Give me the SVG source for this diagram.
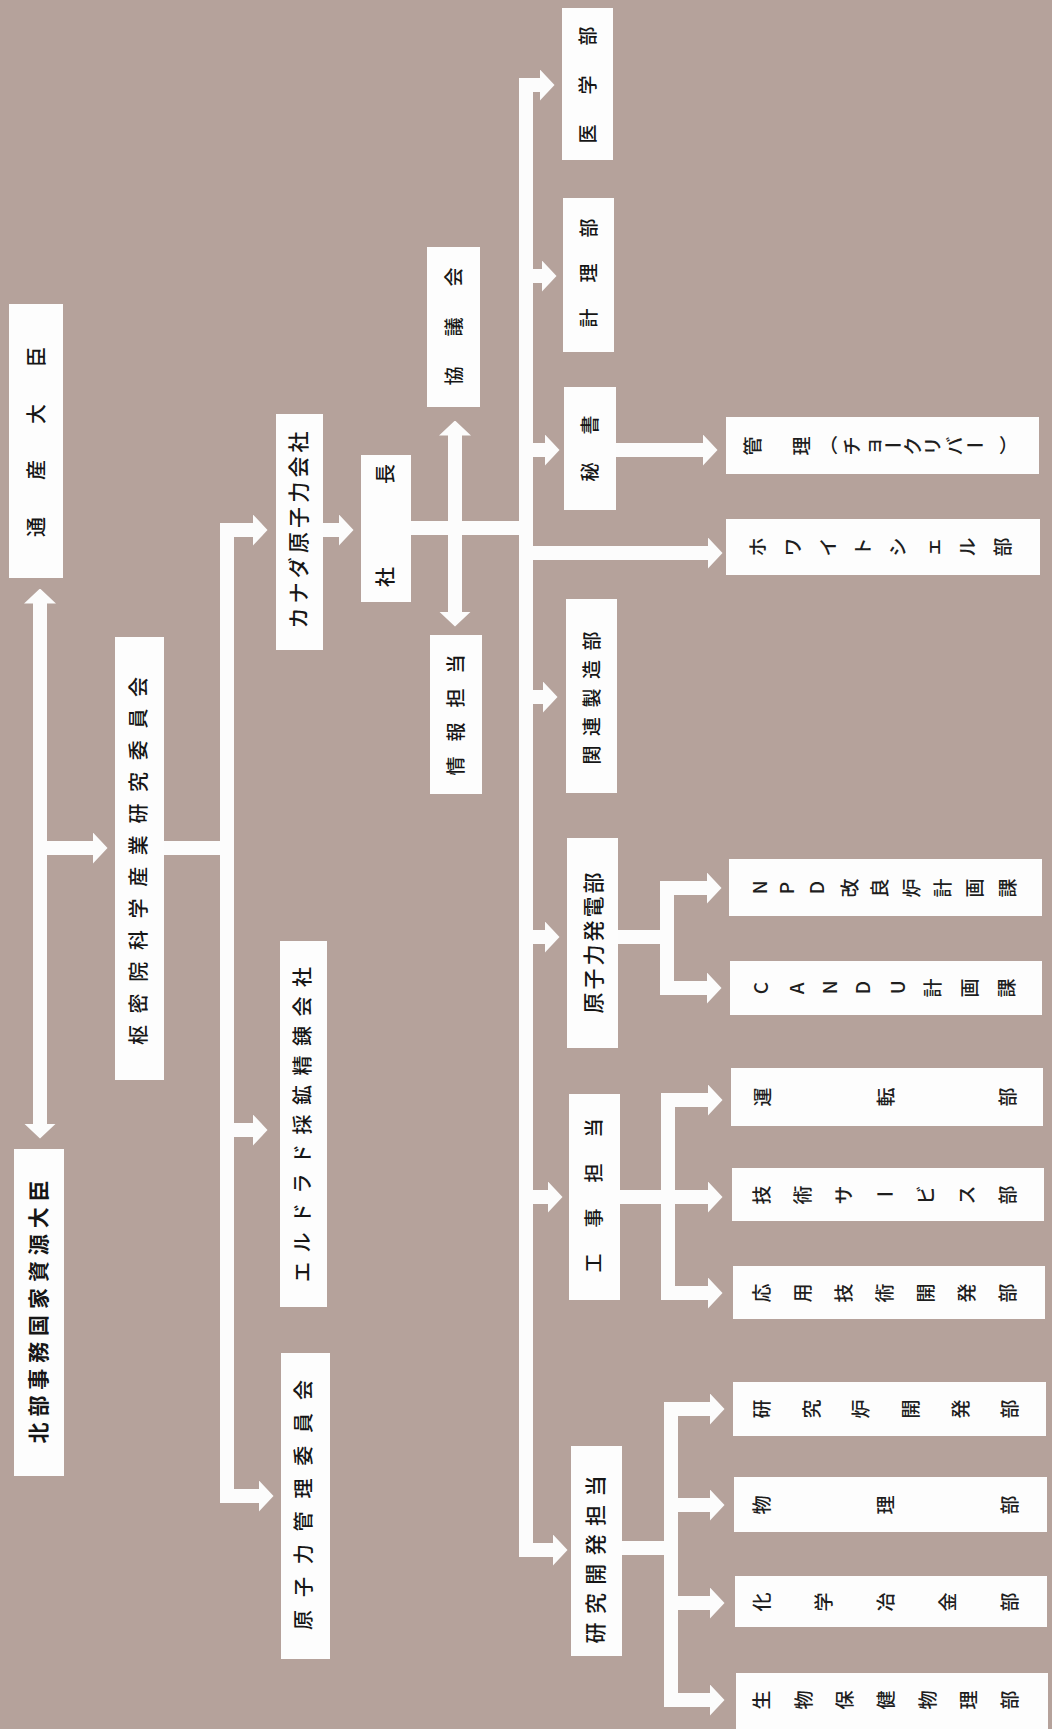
<svg xmlns="http://www.w3.org/2000/svg" width="1052" height="1729" viewBox="0 0 1052 1729">
<style>
.bg{fill:#b5a29b}
.box{fill:#fdfdfd}
.c{fill:none;stroke:#fcfcfc;stroke-width:14;stroke-linejoin:miter;stroke-linecap:butt}
.a2{marker-start:url(#ah);marker-end:url(#ah)}
.a1{marker-end:url(#ah)}
.t{font-family:"Noto Sans CJK JP","Noto Sans CJK SC",sans-serif;fill:#161616;text-anchor:middle}
.r{font-family:"Noto Sans CJK JP","Noto Sans CJK SC",sans-serif;fill:#1e1e1e;font-size:19px;font-weight:500}
.s18{font-size:19px}.s19{font-size:20px}.s20{font-size:21px}
.b{font-weight:700}.m{font-weight:500}
</style>
<defs>
<marker id="ah" markerUnits="userSpaceOnUse" viewBox="0 0 15 32" markerWidth="15" markerHeight="32" refX="0.5" refY="16" orient="auto-start-reverse">
<path d="M0,0 L15,16 L0,32 Z" fill="#fcfcfc"/>
</marker>
</defs>
<rect class="bg" x="0" y="0" width="1052" height="1729"/>

<g id="connectors">
<line class="c a2" x1="40" y1="603" x2="40" y2="1124"/>
<line class="c a1" x1="40" y1="848" x2="93" y2="848"/>
<line class="c" x1="164" y1="848" x2="227" y2="848"/>
<polyline class="c a2" points="253,530 227,530 227,1496 259,1496"/>
<line class="c a1" x1="227" y1="1130" x2="253" y2="1130"/>
<line class="c a1" x1="323" y1="530" x2="339" y2="530"/>
<line class="c" x1="411" y1="528" x2="526" y2="528"/>
<line class="c a2" x1="455" y1="435" x2="455" y2="612"/>
<polyline class="c a2" points="540,85 526,85 526,1550 553,1550"/>
<line class="c a1" x1="526" y1="276" x2="542" y2="276"/>
<line class="c a1" x1="526" y1="450" x2="545" y2="450"/>
<line class="c a1" x1="526" y1="553" x2="708" y2="553"/>
<line class="c a1" x1="616" y1="450" x2="703" y2="450"/>
<line class="c a1" x1="526" y1="697" x2="543" y2="697"/>
<line class="c a1" x1="526" y1="937" x2="545" y2="937"/>
<line class="c a1" x1="526" y1="1197" x2="548" y2="1197"/>
<line class="c" x1="618" y1="937" x2="667" y2="937"/>
<polyline class="c a2" points="707,888 667,888 667,988 707,988"/>
<polyline class="c a2" points="708,1100 668,1100 668,1293 708,1293"/>
<line class="c a1" x1="620" y1="1197" x2="708" y2="1197"/>
<line class="c" x1="622" y1="1548" x2="671" y2="1548"/>
<polyline class="c a2" points="710,1409 671,1409 671,1700 710,1700"/>
<line class="c a1" x1="671" y1="1505" x2="710" y2="1505"/>
<line class="c a1" x1="671" y1="1603" x2="710" y2="1603"/>
</g>

<g id="n-tsusan">
<rect class="box" x="9" y="304" width="54" height="274"/>
<text class="t s19 m" transform="rotate(-90)" x="-527 -470 -414 -357" y="43.6">通産大臣</text>
</g>
<g id="n-hokubu">
<rect class="box" x="14" y="1149" width="50" height="327"/>
<text class="t s20 b" transform="rotate(-90)" x="-1433 -1406.1 -1379.2 -1352.3 -1325.4 -1298.5 -1271.6 -1244.7 -1217.8 -1190.9" y="46">北部事務国家資源大臣</text>
</g>
<g id="n-sumitsuin">
<rect class="box" x="115" y="637" width="49" height="443"/>
<text class="t s19 m" transform="rotate(-90)" x="-1035 -1003.4 -971.7 -940.1 -908.5 -876.8 -845.2 -813.5 -781.9 -750.3 -718.6 -687" y="145.6">枢密院科学産業研究委員会</text>
</g>
<g id="n-canada">
<rect class="box" x="276" y="414" width="47" height="236"/>
<text class="t s20 m" transform="rotate(-90)" x="-618 -592.9 -567.7 -542.6 -517.4 -492.3 -467.1 -442" y="306">カナダ原子力会社</text>
</g>
<g id="n-eldorado">
<rect class="box" x="280" y="941" width="47" height="366"/>
<text class="t s19 m" transform="rotate(-90)" x="-1272 -1242.5 -1213 -1183.5 -1154 -1124.5 -1095 -1065.5 -1036 -1006.5 -977" y="309.6">エルドラド採鉱精錬会社</text>
</g>
<g id="n-kanri-iinkai">
<rect class="box" x="281" y="1353" width="49" height="306"/>
<text class="t s19 m" transform="rotate(-90)" x="-1620 -1587.1 -1554.3 -1521.4 -1488.6 -1455.7 -1422.9 -1390" y="310.6">原子力管理委員会</text>
</g>
<g id="n-shacho">
<rect class="box" x="361" y="455" width="50" height="147"/>
<text class="t s19 m" transform="rotate(-90)" x="-577 -474" y="392.6">社長</text>
</g>
<g id="n-kyogikai">
<rect class="box" x="427" y="247" width="53" height="160"/>
<text class="t s18 m" transform="rotate(-90)" x="-376 -327 -277" y="461.2">協議会</text>
</g>
<g id="n-joho">
<rect class="box" x="430" y="635" width="52" height="159"/>
<text class="t s18 m" transform="rotate(-90)" x="-766 -732 -698 -664" y="463.2">情報担当</text>
</g>
<g id="n-igaku">
<rect class="box" x="562" y="8" width="51" height="152"/>
<text class="t s18 m" transform="rotate(-90)" x="-134 -85 -36" y="595.2">医学部</text>
</g>
<g id="n-keiri">
<rect class="box" x="563" y="198" width="51" height="154"/>
<text class="t s18 m" transform="rotate(-90)" x="-318 -273 -228" y="596.2">計理部</text>
</g>
<g id="n-hisho">
<rect class="box" x="564" y="387" width="52" height="123"/>
<text class="t s18 m" transform="rotate(-90)" x="-472 -425" y="597.2">秘書</text>
</g>
<g id="n-kanren">
<rect class="box" x="566" y="599" width="51" height="194"/>
<text class="t s18 m" transform="rotate(-90)" x="-755 -726.5 -698 -669.5 -641" y="599.2">関連製造部</text>
</g>
<g id="n-hatsuden">
<rect class="box" x="567" y="838" width="51" height="210"/>
<text class="t s20 m" transform="rotate(-90)" x="-1003 -979 -955 -931 -907 -883" y="601">原子力発電部</text>
</g>
<g id="n-koji">
<rect class="box" x="569" y="1094" width="51" height="206"/>
<text class="t s18 m" transform="rotate(-90)" x="-1263 -1218 -1173 -1128" y="601.2">工事担当</text>
</g>
<g id="n-kenkyu">
<rect class="box" x="571" y="1446" width="51" height="210"/>
<text class="t s20 m" transform="rotate(-90)" x="-1633 -1603.6 -1574.2 -1544.8 -1515.4 -1486" y="603">研究開発担当</text>
</g>

<g id="n-chalkriver">
<rect class="box" x="726" y="417" width="313" height="57"/>
<text class="r" x="760.2 809.2 819 859.2 880.2 883.5 920.2 940.2 962.2 965.5 999" y="455.5 455.5 453.2 455.5 455.5 453.2 455.5 455.5 455.5 453.2 453.2" rotate="-90 -90 0 -90 -90 0 -90 -90 -90 0 0">管理（チョークリバー）</text>
</g>
<g id="n-whiteshell">
<rect class="box" x="726" y="519" width="314" height="56"/>
<text class="r" x="765.2 800.2 835.2 870.2 905.2 940.2 975.2 1010.2" y="556.5" rotate="-90">ホワイトシェル部</text>
</g>
<g id="n-npd">
<rect class="box" x="729" y="859" width="313" height="57"/>
<text class="r" x="767.2 794.2 824.2 857.2 887.2 919.2 950.2 982.2 1015.2" y="894.3 894.3 894.3 897.5 897.5 897.5 897.5 897.5 897.5" rotate="-90">NPD改良炉計画課</text>
</g>
<g id="n-candu">
<rect class="box" x="730" y="961" width="312" height="54"/>
<text class="r" x="768.2 804.2 837.2 870.2 905.2 940.2 977.2 1014.2" y="994.3 994.3 994.3 994.3 994.3 997.5 997.5 997.5" rotate="-90">CANDU計画課</text>
</g>
<g id="n-unten">
<rect class="box" x="731" y="1068" width="312" height="58"/>
<text class="r" x="770.2 893.2 1015.2" y="1106.5" rotate="-90">運転部</text>
</g>
<g id="n-gijutsu-service">
<rect class="box" x="732" y="1168" width="312" height="53"/>
<text class="r" x="769.2 810.2 851.2 875.5 933.2 974.2 1015.2" y="1204.5 1204.5 1204.5 1202.2 1204.5 1204.5 1204.5" rotate="-90 -90 -90 0 -90 -90 -90">技術サービス部</text>
</g>
<g id="n-oyo">
<rect class="box" x="733" y="1266" width="312" height="53"/>
<text class="r" x="769.2 810.2 851.2 892.2 933.2 974.2 1015.2" y="1302.5" rotate="-90">応用技術開発部</text>
</g>
<g id="n-kenkyuro">
<rect class="box" x="733" y="1382" width="313" height="54"/>
<text class="r" x="769.2 818.8 868.4 918 967.6 1017.2" y="1418.5" rotate="-90">研究炉開発部</text>
</g>
<g id="n-butsuri">
<rect class="box" x="734" y="1477" width="313" height="55"/>
<text class="r" x="769.2 893.2 1017.2" y="1514.5" rotate="-90">物理部</text>
</g>
<g id="n-kagaku">
<rect class="box" x="735" y="1576" width="312" height="51"/>
<text class="r" x="769.2 831.2 893.2 955.2 1017.2" y="1611.5" rotate="-90">化学冶金部</text>
</g>
<g id="n-seibutsu">
<rect class="box" x="736" y="1673" width="312" height="56"/>
<text class="r" x="769.2 810.5 851.9 893.2 934.5 975.9 1017.2" y="1709.5" rotate="-90">生物保健物理部</text>
</g>
</svg>
